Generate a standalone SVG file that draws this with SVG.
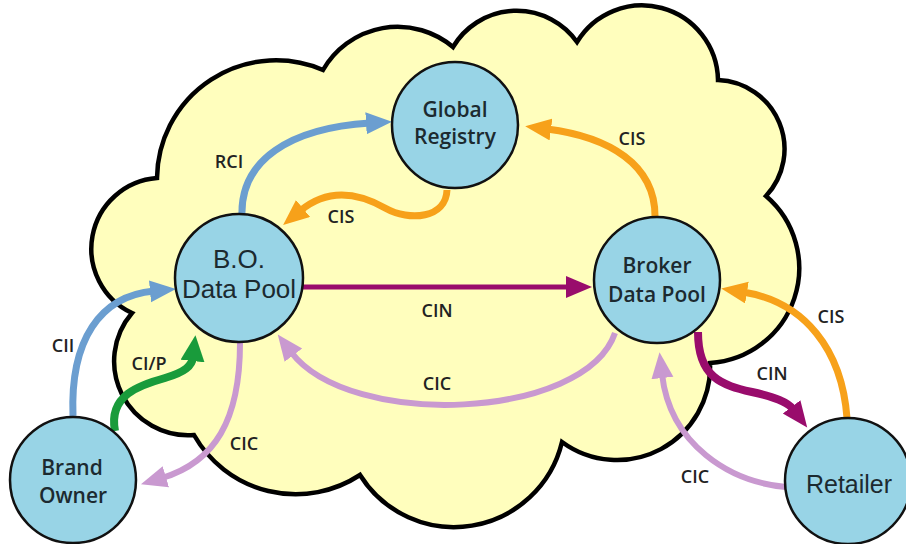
<svg xmlns="http://www.w3.org/2000/svg" width="906" height="544" viewBox="0 0 906 544">
<style>
.node{fill:#98D4E6;stroke:#111;stroke-width:2.5}
.lbl{font-family:"Open Sans","Liberation Sans",sans-serif;font-weight:600;font-size:18px;fill:#222;text-anchor:middle}
.nt{font-family:"Open Sans","Liberation Sans",sans-serif;font-weight:600;font-size:21px;fill:#1c2a30;text-anchor:middle}
.na{font-family:"Liberation Sans",Arial,sans-serif;font-size:26px;fill:#1c2a30;text-anchor:middle}
.c{fill:none;stroke-linecap:butt}
.blue{stroke:#6B9ED0;stroke-width:7}
.orange{stroke:#F7A11A;stroke-width:7}
.purple{stroke:#990C6C;stroke-width:5}
.purpleT{stroke:#990C6C;stroke-width:8}
.pink{stroke:#C999D0;stroke-width:6}
.green{stroke:#199B3B;stroke-width:8}
</style>
<defs>
<marker id="mBlue" markerUnits="userSpaceOnUse" markerWidth="28" markerHeight="24" refX="4" refY="11" orient="auto"><path d="M0,0 L26,11 L0,22 z" fill="#6B9ED0"/></marker>
<marker id="mOrange" markerUnits="userSpaceOnUse" markerWidth="28" markerHeight="24" refX="4" refY="11" orient="auto"><path d="M0,0 L26,11 L0,22 z" fill="#F7A11A"/></marker>
<marker id="mPurple" markerUnits="userSpaceOnUse" markerWidth="28" markerHeight="24" refX="4" refY="11" orient="auto"><path d="M0,0 L26,11 L0,22 z" fill="#990C6C"/></marker>
<marker id="mPink" markerUnits="userSpaceOnUse" markerWidth="28" markerHeight="24" refX="4" refY="11" orient="auto"><path d="M0,0 L26,11 L0,22 z" fill="#C999D0"/></marker>
<marker id="mGreen" markerUnits="userSpaceOnUse" markerWidth="28" markerHeight="26" refX="4" refY="12" orient="auto"><path d="M0,0 L26,12 L0,24 z" fill="#199B3B"/></marker>
</defs>
<rect width="906" height="544" fill="#fff"/>
<path id="cloud" d="M157,178 A119,119 0 0 1 323,70 A86,86 0 0 1 453,47 A74,74 0 0 1 577,42 A76,76 0 0 1 718,80 A69,69 0 0 1 766,196 A95,95 0 0 1 710,363 A93,93 0 0 1 562,442 A111,111 0 0 1 360,475 A117,117 0 0 1 194,435 A74,74 0 0 1 132,313 A71,71 0 0 1 157,178 Z" fill="#FFFEBD" stroke="#000" stroke-width="4.5" stroke-linejoin="miter"/>
<g id="connectors">
<path class="c blue" d="M242,216 C240,160 290,128 370,123" marker-end="url(#mBlue)"/>
<path class="c orange" d="M447,190 C446,218 410,222 385,208 C362,195 330,186 300,211" marker-end="url(#mOrange)"/>
<path class="c orange" d="M655,216 C655,165 610,137 547,129" marker-end="url(#mOrange)"/>
<path class="c purple" d="M303,287 L570,287" marker-end="url(#mPurple)"/>
<path class="c pink" d="M615,333 C585,420 350,430 291,352" marker-end="url(#mPink)"/>
<path class="c blue" d="M73,416 C70,340 100,296 154,291" marker-end="url(#mBlue)"/>
<path class="c green" d="M115,431 C108,395 140,385 165,378 C185,372 192,366 193,357" marker-end="url(#mGreen)"/>
<path class="c pink" d="M240,343 C240,420 215,462 162,478" marker-end="url(#mPink)"/>
<path class="c purpleT" d="M698,332 C698,378 722,385 752,392 C775,397 788,402 794,410" marker-end="url(#mPurple)"/>
<path class="c orange" d="M847,418 C842,350 805,302 743,292" marker-end="url(#mOrange)"/>
<path class="c pink" d="M786,487 C730,482 670,445 662,374" marker-end="url(#mPink)"/>
<text class="lbl" x="229" y="168">RCI</text>
<text class="lbl" x="341" y="223">CIS</text>
<text class="lbl" x="632" y="145">CIS</text>
<text class="lbl" x="437" y="317">CIN</text>
<text class="lbl" x="437" y="390">CIC</text>
<text class="lbl" x="63" y="352">CII</text>
<text class="lbl" x="149" y="370">CI/P</text>
<text class="lbl" x="244" y="450">CIC</text>
<text class="lbl" x="831" y="323">CIS</text>
<text class="lbl" x="772" y="380">CIN</text>
<text class="lbl" x="695" y="483">CIC</text>
</g>
<g id="global-registry"><circle class="node" cx="455" cy="125" r="63"/><text class="nt" x="455" y="117">Global</text><text class="nt" x="455" y="144">Registry</text></g>
<g id="bo-data-pool"><circle class="node" cx="239" cy="278" r="64"/><text class="na" x="239" y="268">B.O.</text><text class="na" x="239" y="298">Data Pool</text></g>
<g id="broker-data-pool"><circle class="node" cx="657" cy="280" r="63"/><text class="nt" x="657" y="273">Broker</text><text class="nt" x="657" y="302">Data Pool</text></g>
<g id="brand-owner"><circle class="node" cx="73" cy="480" r="63"/><text class="nt" x="72" y="475">Brand</text><text class="nt" x="73" y="503">Owner</text></g>
<g id="retailer"><circle class="node" cx="848" cy="481" r="63"/><text class="na" x="849" y="493" style="font-size:25px">Retailer</text></g>
</svg>
